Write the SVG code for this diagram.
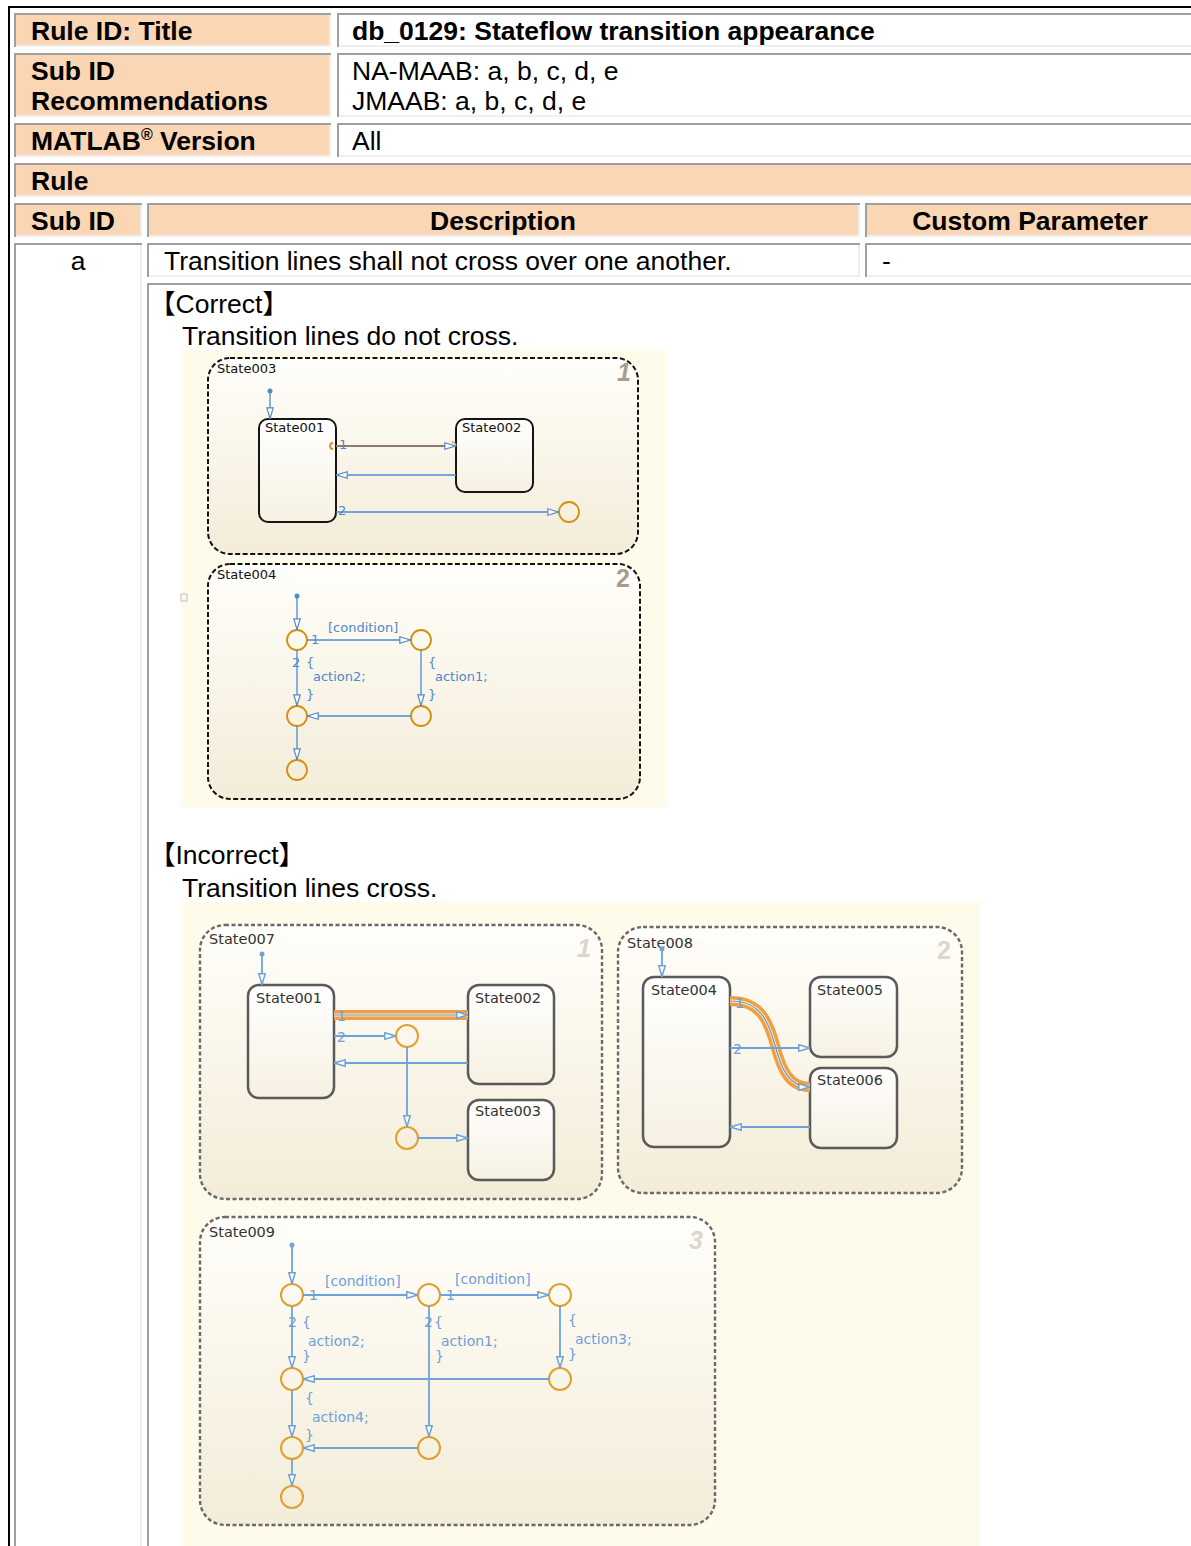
<svg xmlns="http://www.w3.org/2000/svg" width="1191" height="1546" viewBox="0 0 1191 1546">
<style>
.t{font-family:"Liberation Sans",Arial,sans-serif;font-size:26.5px;fill:#000}
.b{font-weight:bold}
.cj{font-family:"Liberation Sans","Noto Sans CJK JP",sans-serif;font-size:26.5px;fill:#000}
.hd{fill:#fad6b4}
.wh{fill:#fff}
.dk{fill:none;stroke:#a0a0a0;stroke-width:2}
.lt{fill:none;stroke:#efefef;stroke-width:2}
.chC{fill:url(#gC);stroke:#111;stroke-width:2;stroke-dasharray:5 2.5}
.chI{fill:url(#gC);stroke:#6a6a6a;stroke-width:2.4;stroke-dasharray:4 2.5}
.stC{fill:url(#gS);stroke:#151515;stroke-width:2}
.stI{fill:url(#gS);stroke:#5a5a5a;stroke-width:2.5}
.lbC{font-family:"DejaVu Sans",sans-serif;font-size:13px;fill:#111}
.lbI{font-family:"DejaVu Sans",sans-serif;font-size:14.5px;fill:#333}
.tC{font-family:"DejaVu Sans",sans-serif;font-size:13px;fill:#4f88cc}
.tI{font-family:"DejaVu Sans",sans-serif;font-size:14px;fill:#6f9fd8}
.lnC{fill:none;stroke:#4f8ad0;stroke-width:1.3}
.lnI{fill:none;stroke:#6fa2da;stroke-width:1.8}
.jC{fill:none;stroke:#d48f0c;stroke-width:1.8}
.jI{fill:none;stroke:#e0a030;stroke-width:2}
.numC{font-family:"Liberation Sans",sans-serif;font-weight:bold;font-size:25px;fill:#a79e8f}
.numI{font-family:"Liberation Sans",sans-serif;font-weight:bold;font-size:25px;fill:#dcd7cd}
.hlO{fill:none;stroke:#f0a040;stroke-width:10}
.hlW{fill:none;stroke:#f3ece0;stroke-width:3}
.hlL{fill:none;stroke:#7c94b0;stroke-width:1.2}
</style>
<defs>
<linearGradient id="gC" x1="0" y1="0" x2="0" y2="1"><stop offset="0" stop-color="#fffefa"/><stop offset="1" stop-color="#f3ecd8"/></linearGradient>
<linearGradient id="gS" x1="0" y1="0" x2="0" y2="1"><stop offset="0" stop-color="#ffffff"/><stop offset="1" stop-color="#f6f1e2"/></linearGradient>
<marker id="aC" viewBox="0 0 12 8" refX="12" refY="4" markerWidth="12" markerHeight="8" markerUnits="userSpaceOnUse" orient="auto"><path d="M0.8,0.8 L11.5,4 L0.8,7.2 Z" fill="#fffdf2" stroke="#4f8ad0" stroke-width="1.2"/></marker>
<marker id="aI" viewBox="0 0 12 8" refX="12" refY="4" markerWidth="12" markerHeight="8" markerUnits="userSpaceOnUse" orient="auto"><path d="M0.8,0.8 L11.5,4 L0.8,7.2 Z" fill="#fffdf2" stroke="#6fa2da" stroke-width="1.5"/></marker>
</defs>
<rect width="1191" height="1546" fill="#fff"/>
<path d="M1191,7 H9 V1546" fill="none" stroke="#000" stroke-width="2"/>

<g id="table">
<rect class="hd" x="14" y="13" width="317" height="34"/><path class="dk" d="M15,47 V14 H331"/><path class="lt" d="M16,46 H330 V15"/>
<rect class="wh" x="337" y="13" width="863" height="34"/><path class="dk" d="M338,47 V14 H1200"/><path class="lt" d="M339,46 H1200"/>
<rect class="hd" x="14" y="53" width="317" height="64"/><path class="dk" d="M15,117 V54 H331"/><path class="lt" d="M16,116 H330 V55"/>
<rect class="wh" x="337" y="53" width="863" height="64"/><path class="dk" d="M338,117 V54 H1200"/><path class="lt" d="M339,116 H1200"/>
<rect class="hd" x="14" y="123" width="317" height="34"/><path class="dk" d="M15,157 V124 H331"/><path class="lt" d="M16,156 H330 V125"/>
<rect class="wh" x="337" y="123" width="863" height="34"/><path class="dk" d="M338,157 V124 H1200"/><path class="lt" d="M339,156 H1200"/>
<rect class="hd" x="14" y="163" width="1186" height="34"/><path class="dk" d="M15,197 V164 H1200"/><path class="lt" d="M16,196 H1200"/>
<rect class="hd" x="14" y="203" width="128" height="34"/><path class="dk" d="M15,237 V204 H142"/><path class="lt" d="M16,236 H141 V205"/>
<rect class="hd" x="147" y="203" width="713" height="34"/><path class="dk" d="M148,237 V204 H860"/><path class="lt" d="M149,236 H859 V205"/>
<rect class="hd" x="865" y="203" width="335" height="34"/><path class="dk" d="M866,237 V204 H1200"/><path class="lt" d="M867,236 H1200"/>
<rect class="wh" x="14" y="243" width="128" height="1320"/><path class="dk" d="M15,1560 V244 H142"/><path class="lt" d="M141,245 V1560"/>
<rect class="wh" x="147" y="243" width="713" height="34"/><path class="dk" d="M148,277 V244 H860"/><path class="lt" d="M149,276 H859 V245"/>
<rect class="wh" x="865" y="243" width="335" height="34"/><path class="dk" d="M866,277 V244 H1200"/><path class="lt" d="M867,276 H1200"/>
<rect class="wh" x="147" y="283" width="1053" height="1280"/><path class="dk" d="M148,1560 V284 H1200"/>
</g>

<g id="table-text">
<text class="t b" x="31" y="40">Rule ID: Title</text>
<text class="t b" x="352" y="40">db_0129: Stateflow transition appearance</text>
<text class="t b" x="31" y="80">Sub ID</text>
<text class="t b" x="31" y="110">Recommendations</text>
<text class="t" x="352" y="80">NA-MAAB: a, b, c, d, e</text>
<text class="t" x="352" y="110">JMAAB: a, b, c, d, e</text>
<text class="t b" x="31" y="150">MATLAB<tspan font-size="16" dy="-10">®</tspan><tspan dy="10"> Version</tspan></text>
<text class="t" x="352" y="150">All</text>
<text class="t b" x="31" y="190">Rule</text>
<text class="t b" x="31" y="230">Sub ID</text>
<text class="t b" x="503" y="230" text-anchor="middle">Description</text>
<text class="t b" x="1030" y="230" text-anchor="middle">Custom Parameter</text>
<text class="t" x="78" y="270" text-anchor="middle">a</text>
<text class="t" x="164" y="270">Transition lines shall not cross over one another.</text>
<text class="t" x="882" y="270">-</text>
<text class="cj" x="149" y="313">【Correct】</text>
<text class="t" x="182" y="345">Transition lines do not cross.</text>
<text class="cj" x="149" y="864">【Incorrect】</text>
<text class="t" x="182" y="897">Transition lines cross.</text>
</g>

<rect x="181" y="350" width="486" height="457" fill="#fefbea"/>
<rect x="181" y="594" width="6" height="7" fill="none" stroke="#b0b0b0" stroke-width="0.8"/>

<g id="State003">
<rect class="chC" x="208" y="358" width="430" height="196" rx="22"/>
<text class="lbC" x="217" y="373">State003</text>
<text class="numC" x="617" y="381" font-style="italic">1</text>
</g>
<g id="C1-State001"><rect class="stC" x="259" y="419" width="77" height="103" rx="9"/><text class="lbC" x="265" y="432">State001</text></g>
<g id="C1-State002"><rect class="stC" x="456" y="419" width="77" height="73" rx="9"/><text class="lbC" x="462" y="432">State002</text></g>
<g id="C1-J1"><circle class="jC" cx="569" cy="512" r="10"/></g>

<g id="State004">
<rect class="chC" x="208" y="564" width="432" height="235" rx="22"/>
<text class="lbC" x="217" y="579">State004</text>
<text class="numC" x="616" y="587">2</text>
</g>
<g id="C2-junctions">
<circle class="jC" cx="297" cy="640" r="10"/>
<circle class="jC" cx="421" cy="640" r="10"/>
<circle class="jC" cx="297" cy="716" r="10"/>
<circle class="jC" cx="421" cy="716" r="10"/>
<circle class="jC" cx="297" cy="770" r="10"/>
</g>

<g id="connectors-correct">
<circle cx="270" cy="391" r="2.5" fill="#4f8ad0"/>
<path class="lnC" d="M270,392 V419" marker-end="url(#aC)"/>
<path d="M336,446 H456" fill="none" stroke="#8a7c6a" stroke-width="2" marker-end="url(#aC)"/>
<path d="M333,443 a3,3 0 0 0 0,6" fill="none" stroke="#e0902a" stroke-width="2"/>
<path d="M452,442 a4,4 0 0 1 4,4" fill="none" stroke="#e0902a" stroke-width="1.5"/>
<text class="tC" x="339" y="449" font-size="11">1</text>
<path class="lnC" d="M456,475 H336" marker-end="url(#aC)"/>
<path class="lnC" d="M336,512 H559" marker-end="url(#aC)"/>
<text class="tC" x="338" y="515" font-size="12">2</text>

<circle cx="297" cy="596" r="2.5" fill="#4f8ad0"/>
<path class="lnC" d="M297,597 V630" marker-end="url(#aC)"/>
<path class="lnC" d="M307,640 H411" marker-end="url(#aC)"/>
<text class="tC" x="311" y="644">1</text>
<text class="tC" x="328" y="632">[condition]</text>
<path class="lnC" d="M297,650 V706" marker-end="url(#aC)"/>
<text class="tC" x="292" y="667">2</text>
<text class="tC" x="306" y="667">{</text>
<text class="tC" x="313" y="681">action2;</text>
<text class="tC" x="306" y="699">}</text>
<path class="lnC" d="M421,650 V706" marker-end="url(#aC)"/>
<text class="tC" x="428" y="667">{</text>
<text class="tC" x="435" y="681">action1;</text>
<text class="tC" x="428" y="699">}</text>
<path class="lnC" d="M411,716 H307" marker-end="url(#aC)"/>
<path class="lnC" d="M297,726 V760" marker-end="url(#aC)"/>
</g>

<rect x="181" y="902" width="799" height="644" fill="#fefbea"/>

<g id="State007">
<rect class="chI" x="200" y="925" width="402" height="274" rx="25"/>
<text class="lbI" x="209" y="944">State007</text>
<text class="numI" x="577" y="957" font-style="italic">1</text>
</g>
<g id="I1-State001"><rect class="stI" x="248" y="985" width="86" height="113" rx="11"/><text class="lbI" x="256" y="1003">State001</text></g>
<g id="I1-State002"><rect class="stI" x="468" y="985" width="86" height="99" rx="11"/><text class="lbI" x="475" y="1003">State002</text></g>
<g id="I1-State003"><rect class="stI" x="468" y="1100" width="86" height="80" rx="11"/><text class="lbI" x="475" y="1116">State003</text></g>
<g id="I1-junctions"><circle class="jI" cx="407" cy="1036" r="11"/><circle class="jI" cx="407" cy="1138" r="11"/></g>

<g id="State008">
<rect class="chI" x="618" y="927" width="344" height="266" rx="25"/>
<text class="lbI" x="627" y="948">State008</text>
<text class="numI" x="937" y="959">2</text>
</g>
<g id="I2-State004"><rect class="stI" x="643" y="977" width="87" height="170" rx="11"/><text class="lbI" x="651" y="995">State004</text></g>
<g id="I2-State005"><rect class="stI" x="810" y="977" width="87" height="80" rx="11"/><text class="lbI" x="817" y="995">State005</text></g>
<g id="I2-State006"><rect class="stI" x="810" y="1068" width="87" height="80" rx="11"/><text class="lbI" x="817" y="1085">State006</text></g>

<g id="State009">
<rect class="chI" x="200" y="1217" width="515" height="308" rx="25"/>
<text class="lbI" x="209" y="1237">State009</text>
<text class="numI" x="689" y="1249" font-style="italic">3</text>
</g>
<g id="I3-junctions">
<circle class="jI" cx="292" cy="1295" r="11"/>
<circle class="jI" cx="429" cy="1295" r="11"/>
<circle class="jI" cx="560" cy="1295" r="11"/>
<circle class="jI" cx="292" cy="1379" r="11"/>
<circle class="jI" cx="560" cy="1379" r="11"/>
<circle class="jI" cx="292" cy="1448" r="11"/>
<circle class="jI" cx="429" cy="1448" r="11"/>
<circle class="jI" cx="292" cy="1497" r="11"/>
</g>

<g id="connectors-incorrect">
<circle cx="262" cy="954" r="2.5" fill="#6fa2da"/>
<path class="lnI" d="M262,955 V985" marker-end="url(#aI)"/>
<path class="hlO" d="M334,1015 H468"/>
<path class="hlW" d="M334,1015 H468"/>
<path class="hlL" d="M334,1015 H468" marker-end="url(#aI)"/>
<text class="tI" x="337" y="1021" fill="#e8e2d6">1</text>
<path class="lnI" d="M334,1036 H396" marker-end="url(#aI)"/>
<text class="tI" x="337" y="1042">2</text>
<path class="lnI" d="M407,1047 V1127" marker-end="url(#aI)"/>
<path class="lnI" d="M418,1138 H468" marker-end="url(#aI)"/>
<path class="lnI" d="M468,1063 H334" marker-end="url(#aI)"/>

<circle cx="662" cy="949" r="2.5" fill="#6fa2da"/>
<path class="lnI" d="M662,950 V977" marker-end="url(#aI)"/>
<path class="hlO" d="M730,1001 C760,1001 768,1020 775,1045 C782,1072 790,1087 810,1087"/>
<path class="hlW" d="M730,1001 C760,1001 768,1020 775,1045 C782,1072 790,1087 810,1087"/>
<path class="hlL" d="M730,1001 C760,1001 768,1020 775,1045 C782,1072 790,1087 810,1087" marker-end="url(#aI)"/>
<text class="tI" x="735" y="1008" fill="#e8e2d6">1</text>
<path class="lnI" d="M730,1048 H810" marker-end="url(#aI)"/>
<text class="tI" x="733" y="1054">2</text>
<path class="lnI" d="M810,1127 H730" marker-end="url(#aI)"/>

<circle cx="292" cy="1245" r="2.5" fill="#6fa2da"/>
<path class="lnI" d="M292,1246 V1284" marker-end="url(#aI)"/>
<path class="lnI" d="M303,1295 H418" marker-end="url(#aI)"/>
<text class="tI" x="309" y="1300">1</text>
<text class="tI" x="325" y="1286">[condition]</text>
<path class="lnI" d="M440,1295 H549" marker-end="url(#aI)"/>
<text class="tI" x="446" y="1300">1</text>
<text class="tI" x="455" y="1284">[condition]</text>
<path class="lnI" d="M292,1306 V1368" marker-end="url(#aI)"/>
<text class="tI" x="288" y="1327">2</text>
<text class="tI" x="302" y="1327">{</text>
<text class="tI" x="308" y="1346">action2;</text>
<text class="tI" x="302" y="1361">}</text>
<path class="lnI" d="M429,1306 V1437" marker-end="url(#aI)"/>
<text class="tI" x="424" y="1327">2</text>
<text class="tI" x="434" y="1327">{</text>
<text class="tI" x="441" y="1346">action1;</text>
<text class="tI" x="435" y="1361">}</text>
<path class="lnI" d="M560,1306 V1368" marker-end="url(#aI)"/>
<text class="tI" x="568" y="1325">{</text>
<text class="tI" x="575" y="1344">action3;</text>
<text class="tI" x="568" y="1359">}</text>
<path class="lnI" d="M549,1379 H303" marker-end="url(#aI)"/>
<path class="lnI" d="M292,1390 V1437" marker-end="url(#aI)"/>
<text class="tI" x="305" y="1403">{</text>
<text class="tI" x="312" y="1422">action4;</text>
<text class="tI" x="305" y="1440">}</text>
<path class="lnI" d="M418,1448 H303" marker-end="url(#aI)"/>
<path class="lnI" d="M292,1459 V1486" marker-end="url(#aI)"/>
</g>
</svg>
